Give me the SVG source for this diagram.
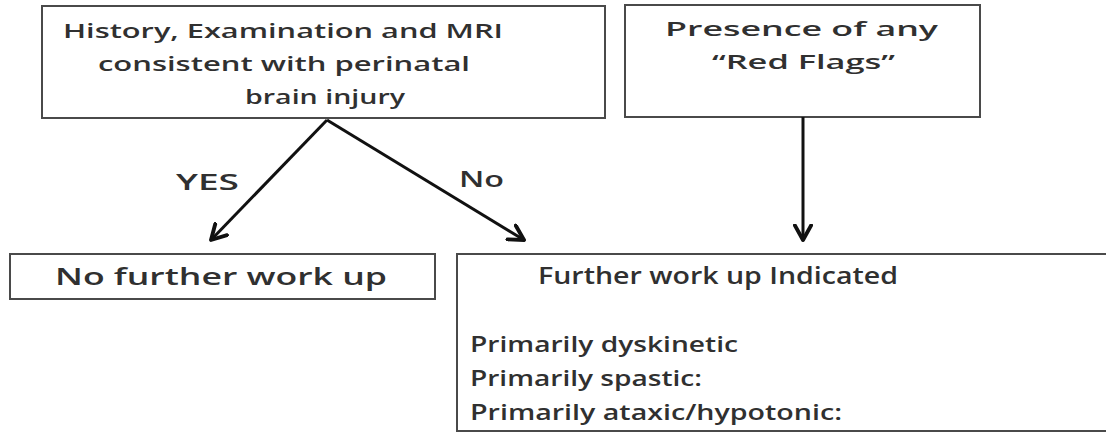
<svg xmlns="http://www.w3.org/2000/svg" width="1106" height="433" viewBox="0 0 1106 433">
  <defs>
    <style>
      .box { fill: #ffffff; stroke: #4a4a4a; stroke-width: 2; }
      .t { font-family: "Open Sans", "Liberation Sans", sans-serif; font-weight: 600; fill: #303030; }
      .s1 { font-size: 19px; }
      .s2 { font-size: 20px; }
      .s3 { font-size: 23px; }
      .s4 { font-size: 21px; }
      .edge { stroke: #111111; stroke-width: 3; fill: none; }
    </style>
    <marker id="arr" viewBox="0 0 12 12" refX="10" refY="6" markerWidth="6.5" markerHeight="6.5" orient="auto" markerUnits="strokeWidth">
      <path d="M1,1 L10,6 L1,11" fill="none" stroke="#111111" stroke-width="2.4" stroke-linecap="round" stroke-linejoin="round"/>
    </marker>
  </defs>
  <rect width="1106" height="433" fill="#ffffff"/>

  <g id="node-history">
    <rect class="box" x="42" y="6" width="563" height="112"/>
    <text class="t s1" x="63" y="38" textLength="440" lengthAdjust="spacingAndGlyphs">History, Examination and MRI</text>
    <text class="t s1" x="98" y="71" textLength="372" lengthAdjust="spacingAndGlyphs">consistent with perinatal</text>
    <text class="t s1" x="245" y="104" textLength="160" lengthAdjust="spacingAndGlyphs">brain injury</text>
  </g>

  <g id="node-redflags">
    <rect class="box" x="625" y="5" width="355" height="112"/>
    <text class="t s2" x="665" y="36" textLength="273" lengthAdjust="spacingAndGlyphs">Presence of any</text>
    <text class="t s2" x="712" y="69" textLength="183" lengthAdjust="spacingAndGlyphs">“Red Flags”</text>
  </g>

  <g id="node-nofurther">
    <rect class="box" x="10" y="254" width="425" height="45"/>
    <text class="t s3" x="55" y="285" textLength="332" lengthAdjust="spacingAndGlyphs">No further work up</text>
  </g>

  <g id="node-further">
    <rect class="box" x="457" y="254" width="660" height="177"/>
    <text class="t s3" x="538" y="284" textLength="360" lengthAdjust="spacingAndGlyphs">Further work up Indicated</text>
    <text class="t s4" x="470" y="352" textLength="268" lengthAdjust="spacingAndGlyphs">Primarily dyskinetic</text>
    <text class="t s4" x="470" y="386" textLength="232" lengthAdjust="spacingAndGlyphs">Primarily spastic:</text>
    <text class="t s4" x="470" y="420" textLength="372" lengthAdjust="spacingAndGlyphs">Primarily ataxic/hypotonic:</text>
  </g>

  <g id="connectors">
    <line class="edge" x1="327" y1="120" x2="211" y2="240" marker-end="url(#arr)"/>
    <line class="edge" x1="327" y1="120" x2="524" y2="240" marker-end="url(#arr)"/>
    <line class="edge" x1="803" y1="117" x2="803" y2="240" marker-end="url(#arr)"/>
    <text class="t s4" x="176" y="190" textLength="63" lengthAdjust="spacingAndGlyphs">YES</text>
    <text class="t s4" x="459" y="187" textLength="45" lengthAdjust="spacingAndGlyphs">No</text>
  </g>
</svg>
